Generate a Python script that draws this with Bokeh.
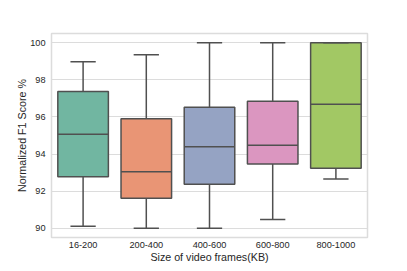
from bokeh.plotting import figure
from bokeh.models import FactorRange, Range1d, FixedTicker, ColumnDataSource
from bokeh.transform import dodge
from bokeh.embed import file_html
from bokeh.resources import INLINE

categories = ["16-200", "200-400", "400-600", "600-800", "800-1000"]
whisker_low = [90.1, 90.0, 90.0, 90.47, 92.66]
q1 = [92.78, 91.61, 92.37, 93.46, 93.23]
median = [95.07, 93.05, 94.39, 94.48, 96.69]
q3 = [97.37, 95.9, 96.53, 96.85, 100.0]
whisker_high = [98.98, 99.35, 100.0, 100.0, 100.0]
colors = ["#71b6a1", "#e99575", "#95a3c3", "#db96c0", "#a2c864"]
y_ticks = [90, 92, 94, 96, 98, 100]

src = ColumnDataSource(dict(cat=categories, lo=whisker_low, q1=q1, med=median,
                            q3=q3, hi=whisker_high, color=colors))

line_col = "#505050"
x_range = FactorRange(*categories)
p = figure(x_range=x_range, y_range=Range1d(89.5, 100.5),
           width=407, height=271,
           min_border_left=51, min_border_top=33, min_border_right=40, min_border_bottom=34,
           output_backend="svg", toolbar_location=None,
           background_fill_color="white", border_fill_color="white")

p.segment(x0="cat", y0="lo", x1="cat", y1="hi", source=src, line_color=line_col, line_width=1.5)
p.vbar(x="cat", top="q3", bottom="q1", width=0.8, source=src, fill_color="color",
       line_color=line_col, line_width=1.5)
p.segment(x0=dodge("cat", -0.4, range=x_range), x1=dodge("cat", 0.4, range=x_range),
          y0="med", y1="med", source=src, line_color=line_col, line_width=1.5)
p.segment(x0=dodge("cat", -0.2, range=x_range), x1=dodge("cat", 0.2, range=x_range),
          y0="lo", y1="lo", source=src, line_color=line_col, line_width=1.5)
p.segment(x0=dodge("cat", -0.2, range=x_range), x1=dodge("cat", 0.2, range=x_range),
          y0="hi", y1="hi", source=src, line_color=line_col, line_width=1.5)

p.yaxis.ticker = FixedTicker(ticks=y_ticks)
p.xaxis.axis_label = "Size of video frames(KB)"
p.yaxis.axis_label = "Normalized F1 Score %"
for ax in (p.xaxis, p.yaxis):
    ax.axis_line_color = None
    ax.major_tick_line_color = None
    ax.minor_tick_line_color = None
    ax.major_tick_out = 0
    ax.major_tick_in = 0
    ax.major_label_text_font = "Liberation Sans"
    ax.major_label_text_font_size = "9.2px"
    ax.major_label_text_color = "#262626"
    ax.axis_label_text_font = "Liberation Sans"
    ax.axis_label_text_font_size = "10.7px"
    ax.axis_label_text_font_style = "normal"
    ax.axis_label_text_color = "#262626"
p.xaxis.major_label_standoff = 4
p.xaxis.axis_label_standoff = 0
p.yaxis.major_label_standoff = 6
p.yaxis.axis_label_standoff = -1

p.xgrid.grid_line_color = None
p.ygrid.grid_line_color = "#dcdcdc"
p.ygrid.grid_line_width = 1.2
p.outline_line_color = "#dcdcdc"
p.outline_line_width = 1.5

open("out.html", "w").write(file_html(p, INLINE))
